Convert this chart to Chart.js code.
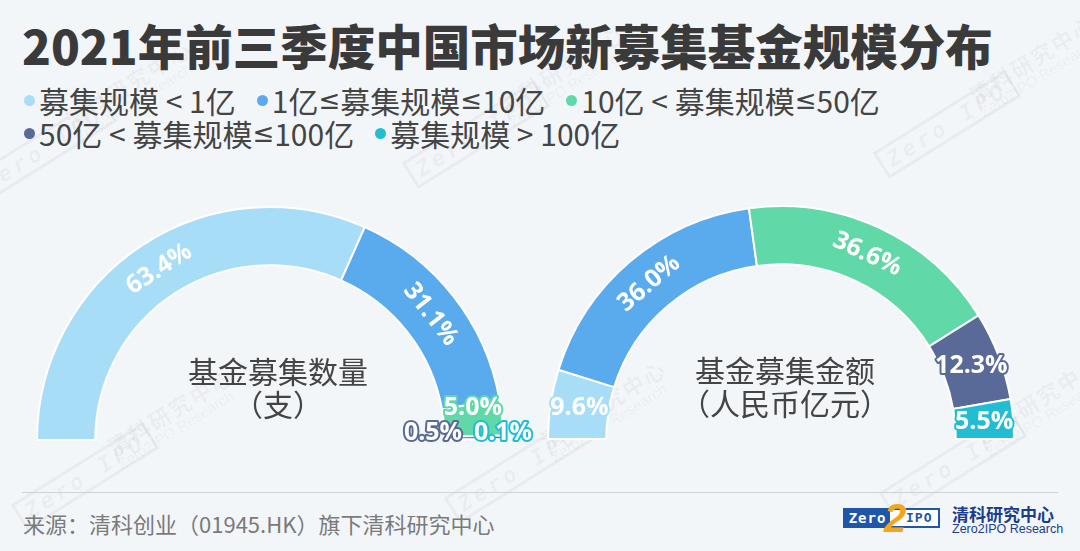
<!DOCTYPE html>
<html>
<head>
<meta charset="utf-8">
<script src="https://cdn.jsdelivr.net/npm/chart.js@4/dist/chart.umd.min.js"></script>
<style>
    body {
        margin: 0;
        width: 1080px;
        height: 551px;
        background: #f3f6f9;
        overflow: hidden;
        position: relative;
        font-family: "Noto Sans CJK SC", "Noto Sans", sans-serif;
    }
    #title {
        position: absolute;
        left: 22px;
        top: 19px;
        font-size: 47.5px;
        line-height: 52px;
        font-weight: 900;
        color: #3a3a3a;
        white-space: nowrap;
    }
    #legend {
        position: absolute;
        left: 24px;
        top: 84px;
        width: 910px;
        display: flex;
        flex-wrap: wrap;
        font-size: 30px;
        line-height: 33px;
        color: #444;
    }
    .item { display: flex; align-items: center; margin-right: 21px; white-space: pre; }
    .dot { width: 11px; height: 11px; border-radius: 50%; margin-right: 4px; }
    .le { font-family: "DejaVu Sans", sans-serif; font-size: 26px; }
    canvas { position: absolute; }
    #rule {
        position: absolute;
        left: 22px;
        top: 492px;
        width: 1036px;
        height: 1px;
        background: #cfd3d8;
    }
    #source {
        position: absolute;
        left: 23px;
        top: 508px;
        font-size: 22px;
        line-height: 30px;
        color: #7a7a7a;
        white-space: nowrap;
    }
    .wm { position: absolute; transform: rotate(-32deg); color: rgba(90, 100, 115, 0.065); white-space: nowrap; }
    .wm .box { display: inline-block; border: 3px solid rgba(90, 100, 115, 0.065); font: italic 900 22px "DejaVu Sans Mono", monospace; padding: 0 6px; letter-spacing: 4px; }
    .wm .t1 { font-size: 22px; font-weight: 700; line-height: 24px; letter-spacing: 2px; }
    .wm .t2 { font: 15px "Liberation Sans", sans-serif; line-height: 16px; }
</style>
</head>
<body>
<div id="wm"></div>
<div id="title">2021年前三季度中国市场新募集基金规模分布</div>
<div id="legend"></div>
<canvas id="countChart" width="540" height="280" style="left:0px;top:190px;"></canvas>
<canvas id="amountChart" width="520" height="280" style="left:521px;top:189px;"></canvas>
<div id="rule"></div>
<div id="source">来源：清科创业（01945.HK）旗下清科研究中心</div>

<div style="position:absolute;left:843px;top:508px;width:93px;height:16px;border:2px solid #1f56a8;background:#fff;"></div>
<div style="position:absolute;left:845px;top:510px;width:45px;height:16px;background:#1f56a8;color:#fff;font:bold 14px 'DejaVu Sans Mono',monospace;line-height:16px;text-align:center;letter-spacing:1px;">Zero</div>
<div style="position:absolute;left:906px;top:510px;width:30px;height:16px;color:#1f56a8;font:bold 13px 'DejaVu Sans Mono',monospace;line-height:16px;letter-spacing:1px;">IPO</div>
<div style="position:absolute;left:884px;top:496px;color:#f2a51d;font:italic 900 40px 'Liberation Sans',sans-serif;line-height:44px;">2</div>
<div style="position:absolute;left:952px;top:503px;color:#1b3d8c;font-weight:700;font-size:17px;line-height:22px;white-space:nowrap;">清科研究中心</div>
<div style="position:absolute;left:952px;top:522px;color:#1b3d8c;font:12.5px 'Liberation Sans',sans-serif;line-height:14px;white-space:nowrap;">Zero2IPO Research</div>

<script>
// categories and values
const categories = ["募集规模 < 1亿", "1亿≤募集规模≤10亿", "10亿 < 募集规模≤50亿", "50亿 < 募集规模≤100亿", "募集规模 > 100亿"];
const countShare = [63.4, 31.1, 5.0, 0.5, 0.1];     // 基金募集数量（支）
const amountShare = [9.6, 36.0, 36.6, 12.3, 5.5];   // 基金募集金额（人民币亿元）
const colors = ["#a8ddf8", "#5aabee", "#60d8a8", "#5a6a98", "#22bdd2"];

// legend (the ≤ sign from a latin font, the CJK one is too wide)
const legend = document.getElementById("legend");
categories.forEach((name, i) => {
    const item = document.createElement("div");
    item.className = "item";
    item.innerHTML = '<span class="dot" style="background:' + colors[i] + '"></span>' +
        name.replace(/≤/g, '<span class="le">≤</span>');
    legend.appendChild(item);
});

// faint watermark tiles
const wmSpots = [[15, 150], [448, 135], [919, 125], [57, 477], [490, 470], [925, 465]];
wmSpots.forEach(([x, y]) => {
    const logo = document.createElement("div");
    logo.className = "wm";
    logo.style.left = (x - 50) + "px";
    logo.style.top = (y - 16) + "px";
    logo.innerHTML = '<span class="box">Zero IPO</span>';
    document.getElementById("wm").appendChild(logo);
    const txt = document.createElement("div");
    txt.className = "wm";
    txt.style.left = (x + 45) + "px";
    txt.style.top = (y - 80) + "px";
    txt.innerHTML = '<div class="t1">清科研究中心</div><div class="t2">Zero2IPO Research</div>';
    document.getElementById("wm").appendChild(txt);
});

// draws the percent labels on the arcs and the caption in the middle
const arcLabels = {
    id: "arcLabels",
    afterDatasetsDraw(chart, args, opts) {
        const ctx = chart.ctx;
        const meta = chart.getDatasetMeta(0);
        const values = chart.data.datasets[0].data;
        let tiny = 0;
        ctx.save();
        ctx.textAlign = "center";
        ctx.textBaseline = "middle";
        ctx.lineJoin = "round";
        meta.data.forEach((arc, i) => {
            const p = arc.getProps(["x", "y", "startAngle", "endAngle", "innerRadius", "outerRadius"], true);
            const mid = (p.startAngle + p.endAngle) / 2;
            const r = (p.innerRadius + p.outerRadius) / 2;
            let x = p.x + Math.cos(mid) * r;
            let y = p.y + Math.sin(mid) * r;
            let rot = 0;
            if (values[i] >= 20) {
                rot = mid + Math.PI / 2;
            } else if (values[i] < 1) {
                x = p.x + opts.tinyX[tiny];
                y = p.y - 7;
                tiny++;
            } else if (values[i] < 6) {
                y -= opts.smallLift || 0;
            }
            const text = values[i].toFixed(1) + "%";
            ctx.save();
            ctx.translate(x, y);
            ctx.rotate(rot);
            ctx.font = 'bold 25px "Open Sans", "Noto Sans", sans-serif';
            ctx.lineWidth = 4;
            ctx.strokeStyle = colors[i];
            ctx.strokeText(text, 0, 0);
            ctx.fillStyle = "#ffffff";
            ctx.fillText(text, 0, 0);
            ctx.restore();
        });
        const cx = meta.data[0].x;
        const cy = meta.data[0].y;
        ctx.font = '30px "Noto Sans CJK SC", sans-serif';
        ctx.fillStyle = "#444444";
        ctx.fillText(opts.center[0], cx + opts.centerShift, cy - 68);
        ctx.fillText(opts.center[1], cx + opts.centerShift, cy - 35);
        ctx.restore();
    }
};

const makeHalfDoughnut = (canvasId, values, center, labelOpts) => {
    new Chart(document.getElementById(canvasId), {
        type: "doughnut",
        data: {
            labels: categories,
            datasets: [{
                data: values,
                backgroundColor: colors,
                borderColor: "#ffffff",
                borderWidth: 2
            }]
        },
        options: {
            responsive: false,
            animation: false,
            events: [],
            rotation: -90,
            circumference: 180,
            radius: 233,
            cutout: "75%",
            layout: { padding: { top: 17, bottom: 30 } },
            plugins: {
                legend: { display: false },
                tooltip: { enabled: false },
                arcLabels: Object.assign({ center: center }, labelOpts)
            }
        },
        plugins: [arcLabels]
    });
};

makeHalfDoughnut("countChart", countShare, ["基金募集数量", "（支）"], { tinyX: [163, 233], smallLift: 12, centerShift: 8 });
makeHalfDoughnut("amountChart", amountShare, ["基金募集金额", "（人民币亿元）"], { tinyX: [], smallLift: 0, centerShift: 4 });
</script>
</body>
</html>
